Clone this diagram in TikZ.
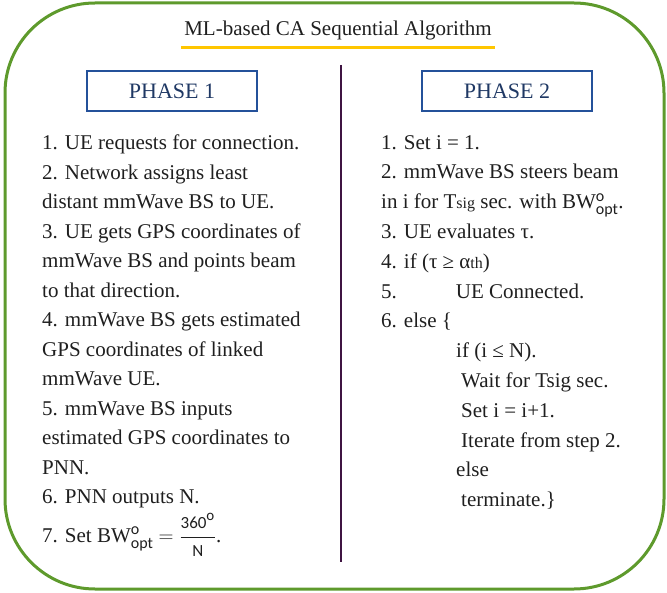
\documentclass[tikz,border=0pt]{standalone}
\usepackage{amsmath}
\usepackage{fontspec}
\setmainfont{Liberation Serif}
\newfontfamily\optfont{Carlito}
\usetikzlibrary{positioning}
\definecolor{framegreen}{HTML}{5E9A2C}
\definecolor{phaseblue}{HTML}{24519A}
\definecolor{phasetext}{HTML}{1F3864}
\definecolor{rulegold}{HTML}{FFC600}
\definecolor{divider}{HTML}{3F1442}
\tikzstyle{frame} = [draw=framegreen, line width=3pt, rounded corners=90pt]
\tikzstyle{phase} = [draw=phaseblue, line width=2pt, minimum width=170pt, minimum height=40pt, text=phasetext, font=\fontsize{22}{26}\selectfont]
\tikzstyle{steps} = [anchor=north west, align=left, inner sep=0pt, text=black!88, font=\fontsize{21}{29.5}\selectfont]
\newcommand{\sml}[1]{{\fontsize{16}{16}\selectfont #1}}
\newcommand{\opt}[2]{\text{\optfont\fontsize{#1}{#1}\selectfont #2}}
\newcommand{\bwopt}{BW$^{\opt{16}{o}}_{\opt{16}{opt}}$}

\begin{document}
\begin{tikzpicture}[x=1pt,y=-1pt]
\useasboundingbox (0,0) rectangle (667,593);
\draw[frame] (5,3) rectangle (664,589);

\node[font=\fontsize{21}{26}\selectfont, text=black!88] (title) at (338,30) {ML-based CA Sequential Algorithm};
\coordinate (ruleL) at ([yshift=-4pt]title.south west);
\coordinate (ruleR) at ([yshift=-4pt]title.south east);
\draw[rulegold, line width=3pt] (ruleL) -- (ruleR);

\node[phase] (p1) at (172,91) {PHASE 1};
\node[phase] (p2) at (507,91) {PHASE 2};

\coordinate (dtop) at (341,65);
\coordinate (dbot) at (341,562);
\draw[divider, line width=2.5pt] (dtop) -- (dbot);

\node[steps] (s1) at (42,135) {1. UE requests for connection.\\
2. Network assigns least\\
distant mmWave BS to UE.\\
3. UE gets GPS coordinates of\\
mmWave BS and points beam\\
to that direction.\\
4. mmWave BS gets estimated\\
GPS coordinates of linked\\
mmWave UE.\\
5. mmWave BS inputs\\
estimated GPS coordinates to\\
PNN.\\
6. PNN outputs N.\\[4pt]
7. Set \bwopt{} $= \dfrac{\opt{17}{360}^{\opt{15}{o}}}{\opt{17}{N}}$.};

\node[steps, font=\fontsize{21}{29.8}\selectfont] (s2) at (381,135) {1. Set i = 1.\\
2. mmWave BS steers beam\\
in i for T\sml{sig} sec. with \bwopt.\\
3. UE evaluates τ.\\
4. if (τ ≥ α\sml{th})\\
5.\hspace*{59pt}UE Connected.\\
6. else \{\\
\hspace*{75pt}if (i ≤ N).\\
\hspace*{80pt}Wait for Tsig sec.\\
\hspace*{80pt}Set i = i+1.\\
\hspace*{80pt}Iterate from step 2.\\
\hspace*{75pt}else\\
\hspace*{80pt}terminate.\}};
\end{tikzpicture}
\end{document}
